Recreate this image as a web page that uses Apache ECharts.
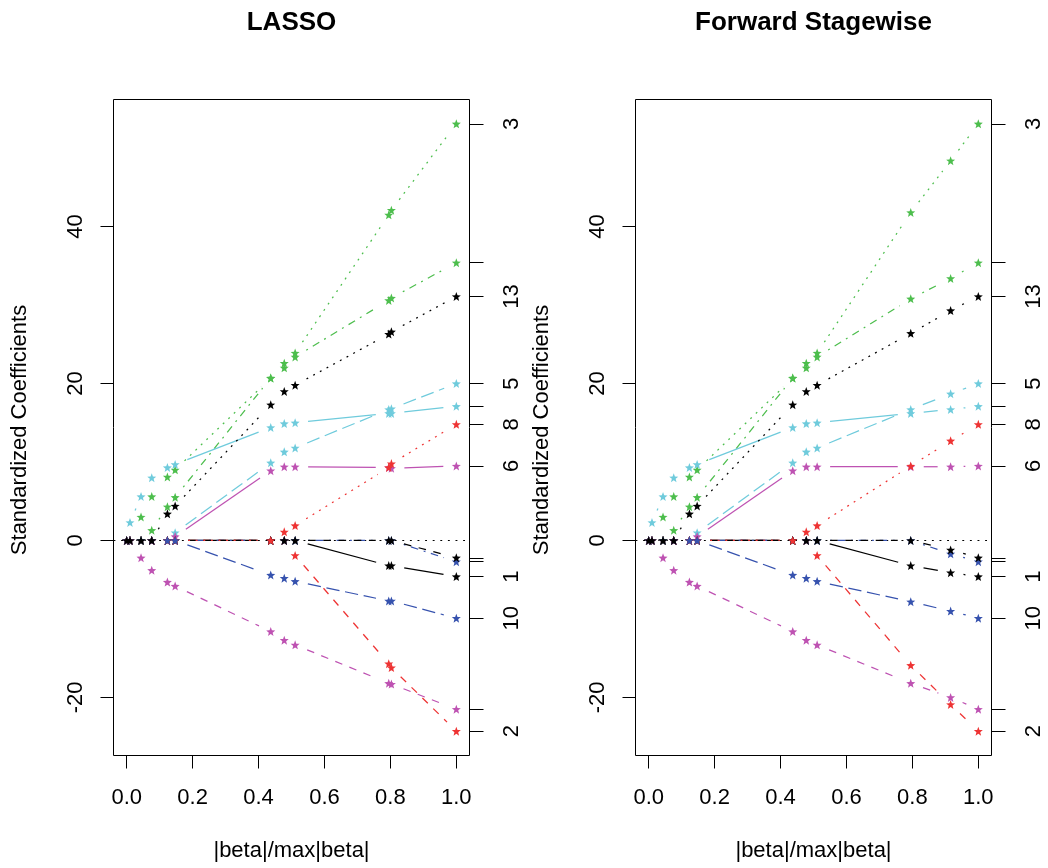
<!DOCTYPE html>
<html>
<head>
<meta charset="utf-8">
<script src="https://cdn.jsdelivr.net/npm/echarts@6/dist/echarts.min.js"></script>
<style>
html,body{margin:0;padding:0;background:#fff;}
#chart{width:1048px;height:868px;}
</style>
</head>
<body>
<div id="chart"></div>
<script>
// ---------------- DATA ----------------
// knot positions |beta|/max|beta|
const lassoX = [0, 0.010, 0.0435, 0.076, 0.1235, 0.147, 0.437, 0.478, 0.511, 0.795, 0.803, 1.0];
const stageX = [0, 0.010, 0.0435, 0.076, 0.1235, 0.147, 0.437, 0.478, 0.511, 0.795, 0.916, 1.0];

// standardized coefficients of variables 1..13 at each knot (LASSO)
const lassoPaths = [
  [0,0,0,0,0,0,0,0,0,-3.2,-3.2,-4.6],                         // 1
  [0,0,0,0,0,0,0,0,-1.9,-15.7,-16.2,-24.3],                   // 2
  [0,0,3.0,5.6,8.1,9.0,20.7,22.6,23.9,41.5,42.1,53.1],        // 3
  [0,0,0,0,0,0,0,0,0,0,0,-2.7],                               // 4
  [0,0,0,0,0,1.0,9.9,11.3,11.8,16.7,16.8,20.0],               // 5
  [0,0,0,0,0,0.5,8.9,9.4,9.4,9.3,9.2,9.5],                    // 6
  [0,0,0,0,0,0,0,0,0,0,0,-2.2],                               // 7
  [0,0,0,0,0,0,0,1.1,1.9,9.3,9.8,14.8],                       // 8
  [0,0,0,1.3,4.3,5.5,20.7,22.0,23.4,30.6,30.9,35.4],          // 9
  [0,0,0,0,0,0,-4.4,-4.8,-5.2,-7.7,-7.7,-9.9],                // 10
  [0,2.3,5.6,8.0,9.3,9.7,14.4,14.9,15.0,16.2,16.2,17.1],      // 11
  [0,0,-2.2,-3.8,-5.3,-5.8,-11.6,-12.7,-13.3,-18.2,-18.3,-21.5], // 12
  [0,0,0,0,3.4,4.4,17.3,19.0,19.8,26.3,26.6,31.1]             // 13
];

// standardized coefficients of variables 1..13 at each knot (Forward Stagewise)
const stagePaths = [
  [0,0,0,0,0,0,0,0,0,-3.2,-4.1,-4.6],                         // 1
  [0,0,0,0,0,0,0,0,-1.9,-15.9,-20.9,-24.3],                   // 2
  [0,0,3.0,5.6,8.1,9.0,20.7,22.6,23.9,41.8,48.4,53.1],        // 3
  [0,0,0,0,0,0,0,0,0,0,-1.7,-2.7],                            // 4
  [0,0,0,0,0,1.0,9.9,11.3,11.8,16.7,18.7,20.0],               // 5
  [0,0,0,0,0,0.5,8.9,9.4,9.4,9.4,9.4,9.5],                    // 6
  [0,0,0,0,0,0,0,0,0,0,-1.2,-2.2],                            // 7
  [0,0,0,0,0,0,0,1.1,1.9,9.5,12.7,14.8],                      // 8
  [0,0,0,1.3,4.3,5.5,20.7,22.0,23.4,30.8,33.4,35.4],          // 9
  [0,0,0,0,0,0,-4.4,-4.8,-5.2,-7.8,-9.0,-9.9],                // 10
  [0,2.3,5.6,8.0,9.3,9.7,14.4,14.9,15.0,16.2,16.7,17.1],      // 11
  [0,0,-2.2,-3.8,-5.3,-5.8,-11.6,-12.7,-13.3,-18.2,-20.0,-21.5], // 12
  [0,0,0,0,3.4,4.4,17.3,19.0,19.8,26.4,29.3,31.1]             // 13
];

// right-axis labels (variable numbers; empty where the original dropped overlapping labels)
const rightLabels = ['1','2','3','','5','6','','8','','10','','','13'];
const xTicks = [0, 0.2, 0.4, 0.6, 0.8, 1.0];
const yTicks = [-20, 0, 20, 40];
const titles = ['LASSO', 'Forward Stagewise'];
const xName = '|beta|/max|beta|';
const yName = 'Standardized Coefficients';

// ---------------- STYLE ----------------
const FONT = "'Liberation Sans', Arial, Helvetica, sans-serif";
const COLORS = ['#000000', '#EE3333', '#4DBE4D', '#3652AE', '#6FCBDC', '#BE52B2'];
const U = 1.9;
const DASHES = [null, [4*U, 4*U], [1*U, 3*U], [1*U, 3*U, 4*U, 3*U], [7*U, 3*U]];
const GAP = 13;
const STAR = 'path://M50 0L62.4 33L97.6 34.5L70 56.5L79.4 90.5L50 71L20.6 90.5L30 56.5L2.4 34.5L37.6 33Z';
const YMIN = -27.4, YMAX = 56.2;

const panels = [
  {x: lassoX, paths: lassoPaths, left: 113.5},
  {x: stageX, paths: stagePaths, left: 635.5}
];
const GTOP = 99.5, GW = 356, GH = 656;

const grid = [], xAxis = [], yAxis = [], series = [], graphic = [];

panels.forEach((p, i) => {
  grid.push({left: p.left, top: GTOP, width: GW, height: GH, show: true,
    borderColor: '#000', borderWidth: 1, backgroundColor: 'transparent',
    containLabel: false, outerBoundsMode: 'none'});

  xAxis.push({gridIndex: i, type: 'value', min: -0.04, max: 1.04,
    splitLine: {show: false}, axisLine: {show: false, onZero: false},
    axisTick: {show: true, length: 13, customValues: xTicks, lineStyle: {color: '#000', width: 1}},
    axisLabel: {customValues: xTicks, formatter: v => v.toFixed(1), fontSize: 22, color: '#000',
      fontFamily: FONT, margin: 31}});

  const finals = p.paths.map(r => r[r.length - 1]);
  const labelMap = {};
  finals.forEach((v, j) => { labelMap[String(v)] = rightLabels[j]; });

  yAxis.push({gridIndex: i, type: 'value', position: 'left', min: YMIN, max: YMAX,
    splitLine: {show: false}, axisLine: {show: false, onZero: false},
    axisTick: {show: true, length: 13, customValues: yTicks, lineStyle: {color: '#000', width: 1}},
    axisLabel: {customValues: yTicks, rotate: 90, fontSize: 22, color: '#000', fontFamily: FONT,
      margin: 27, formatter: v => String(v)}});
  yAxis.push({gridIndex: i, type: 'value', position: 'right', min: YMIN, max: YMAX,
    splitLine: {show: false}, axisLine: {show: false, onZero: false},
    axisTick: {show: true, length: 14, customValues: finals, lineStyle: {color: '#000', width: 1}},
    axisLabel: {customValues: finals, rotate: 90, fontSize: 22, color: '#000', fontFamily: FONT,
      margin: 31, formatter: v => (labelMap[String(v)] || '')}});

  p.paths.forEach((vals, j) => {
    const data = p.x.map((x, k) => [x, vals[k]]);
    const color = COLORS[j % 6];
    const dash = DASHES[j % 5];
    series.push({
      type: 'custom', xAxisIndex: i, yAxisIndex: 2*i, data: data, silent: true, z: 2 + j,
      encode: {x: 0, y: 1}, animation: false,
      renderItem: (params, api) => {
        const k = params.dataIndex;
        if (k >= data.length - 1) return null;
        const a = api.coord(data[k]), b = api.coord(data[k + 1]);
        const dx = b[0] - a[0], dy = b[1] - a[1], d = Math.hypot(dx, dy);
        if (d <= 2 * GAP) return null;
        const ux = dx / d, uy = dy / d;
        const style = {stroke: color, lineWidth: 1.25, fill: null};
        if (dash) style.lineDash = dash;
        return {type: 'line', shape: {x1: a[0] + ux*GAP, y1: a[1] + uy*GAP, x2: b[0] - ux*GAP, y2: b[1] - uy*GAP}, style: style};
      }
    });
    const sc = {
      type: 'scatter', xAxisIndex: i, yAxisIndex: 2*i, data: data, symbol: STAR, symbolSize: 9,
      itemStyle: {color: color, opacity: 1}, silent: true, z: 2 + j, animation: false,
      emphasis: {disabled: true}
    };
    if (j === p.paths.length - 1) {
      sc.markLine = {silent: true, symbol: ['none', 'none'], label: {show: false},
        emphasis: {disabled: true}, animation: false,
        lineStyle: {color: '#000', type: [1*U, 3*U], width: 1.2}, data: [{yAxis: 0}]};
    }
    series.push(sc);
  });

  const cx = p.left + GW / 2;
  graphic.push({type: 'text', x: cx, y: 23, silent: true,
    style: {text: titles[i], fontSize: 26, fontWeight: 'bold', fontFamily: FONT, fill: '#000',
      align: 'center', verticalAlign: 'middle', textAlign: 'center', textVerticalAlign: 'middle'}});
  graphic.push({type: 'text', x: cx, y: 851, silent: true,
    style: {text: xName, fontSize: 22, fontFamily: FONT, fill: '#000',
      align: 'center', verticalAlign: 'middle', textAlign: 'center', textVerticalAlign: 'middle'}});
  graphic.push({type: 'text', x: p.left - 94, y: 430, rotation: Math.PI / 2, silent: true,
    style: {text: yName, fontSize: 22, fontFamily: FONT, fill: '#000',
      align: 'center', verticalAlign: 'middle', textAlign: 'center', textVerticalAlign: 'middle'}});
});

const chart = echarts.init(document.getElementById('chart'), null, {renderer: 'canvas'});
chart.setOption({
  animation: false,
  backgroundColor: '#ffffff',
  textStyle: {fontFamily: FONT},
  grid: grid, xAxis: xAxis, yAxis: yAxis, series: series, graphic: graphic
});
</script>
</body>
</html>
